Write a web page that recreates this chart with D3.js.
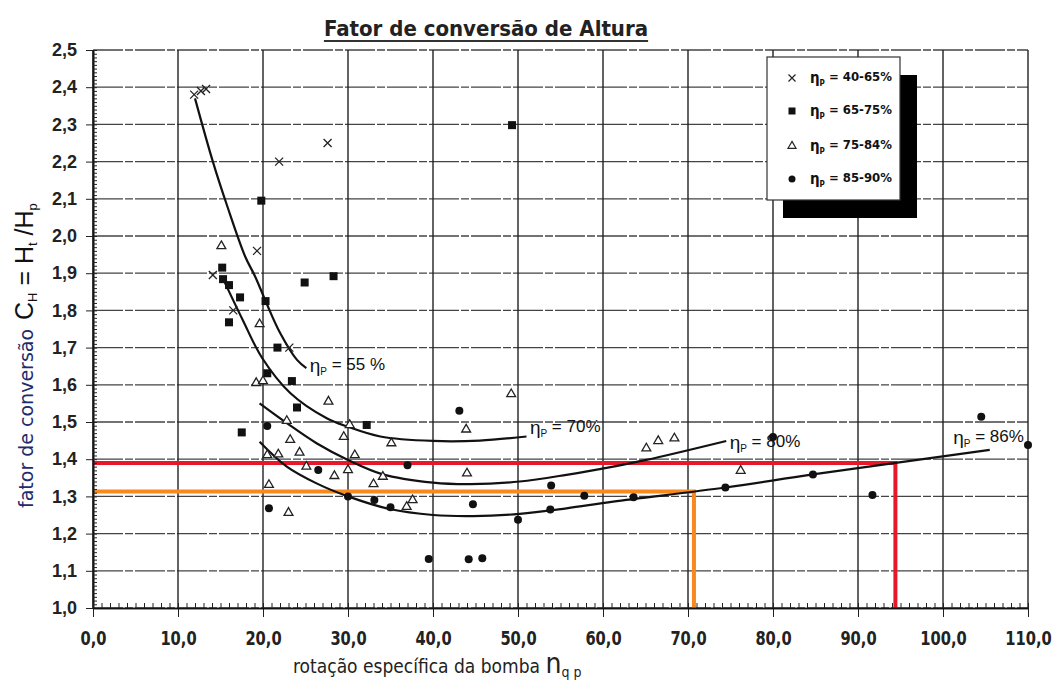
<!DOCTYPE html>
<html>
<head>
<meta charset="utf-8">
<script src="https://cdn.jsdelivr.net/npm/d3@7"></script>
<style>
  body { margin: 0; background: #fff; }
  svg { display: block; }
</style>
</head>
<body>
<svg id="chart" width="1054" height="684"></svg>
<script>
// Axis ticks
const xTicks = d3.range(0, 111, 10);
const yTicks = d3.range(10, 26).map(v => v / 10);

// Measured points by pump efficiency class
const crossPts = [[11.9,2.38],[12.7,2.39],[13.3,2.395],[21.9,2.20],[27.6,2.25],[19.3,1.96],[14.1,1.895],[16.5,1.80],[23.1,1.70]];
const squarePts = [[19.8,2.095],[49.3,2.298],[15.2,1.915],[15.3,1.884],[16.0,1.868],[24.9,1.875],[28.3,1.892],[17.3,1.835],[20.3,1.825],[16.0,1.768],[21.7,1.70],[20.5,1.631],[23.4,1.61],[24.0,1.539],[17.5,1.472],[32.2,1.492]];
const trianglePts = [[15.1,1.973],[19.6,1.763],[19.2,1.605],[20.0,1.61],[27.7,1.555],[22.8,1.503],[23.2,1.452],[24.3,1.418],[20.5,1.411],[21.8,1.413],[25.1,1.38],[28.4,1.355],[30.0,1.371],[30.8,1.411],[29.5,1.46],[30.2,1.492],[20.7,1.331],[23.0,1.256],[35.1,1.443],[34.1,1.353],[33.0,1.333],[49.2,1.575],[43.9,1.48],[44.0,1.362],[37.6,1.29],[36.9,1.272],[65.1,1.429],[66.5,1.449],[68.4,1.456],[76.2,1.369]];
const circlePts = [[20.5,1.489],[26.5,1.371],[20.7,1.268],[30.0,1.30],[33.1,1.29],[35.0,1.271],[43.1,1.530],[37.0,1.384],[53.9,1.329],[57.8,1.302],[44.7,1.279],[53.8,1.265],[50.0,1.237],[39.5,1.132],[44.2,1.131],[45.8,1.134],[80.0,1.46],[63.6,1.298],[74.4,1.324],[84.7,1.359],[91.7,1.304],[104.5,1.514],[110.0,1.438]];

// Iso-efficiency curves
const curve55 = [[12.0,2.37],[14.1,2.20],[15.8,2.08],[17.9,1.945],[19.1,1.89],[20.4,1.82],[22.0,1.74],[24.0,1.667],[25.1,1.645]];
const curve70 = [[15.4,1.88],[17.6,1.775],[19.9,1.672],[23.2,1.578],[27.5,1.51],[30.0,1.487],[33.8,1.461],[40.0,1.449],[45.5,1.45],[51.0,1.461]];
const curve80 = [[19.6,1.55],[22.8,1.497],[26.3,1.443],[30.0,1.398],[34.0,1.36],[40.0,1.337],[44.4,1.333],[50.2,1.34],[55.7,1.358],[61.2,1.38],[65.1,1.398],[74.5,1.449]];
const curve86 = [[19.6,1.447],[22.8,1.38],[26.3,1.335],[30.0,1.30],[34.9,1.266],[40.0,1.25],[44.7,1.247],[50.2,1.253],[55.7,1.268],[61.2,1.286],[74.4,1.324],[84.7,1.359],[105.5,1.425]];
const curveNames = ["55 %", "70%", "80%", "86%"];
const curveLabelAt = [[25.5,1.634],[51.4,1.468],[74.9,1.427],[101.2,1.44]];

// Reading lines (operating points)
const redPoint = [94.4, 1.39];
const orangePoint = [70.7, 1.313];

// Legend
const legendLabels = ["40-65%", "65-75%", "75-84%", "85-90%"];

const svg = d3.select("#chart");
const W = 1054, H = 684;
const m = { left: 93, right: 26, top: 50, bottom: 76 };
const x = d3.scaleLinear().domain([0, 110]).range([m.left, W - m.right]);
const y = d3.scaleLinear().domain([1.0, 2.5]).range([H - m.bottom, m.top]);
const fmt = d => d3.format(".1f")(d).replace(".", ",");

// Grid
const grid = svg.append("g");
grid.selectAll("line.h").data(yTicks).join("line")
  .attr("x1", x(0)).attr("x2", x(110))
  .attr("y1", d => y(d)).attr("y2", d => y(d))
  .attr("stroke", "#444").attr("stroke-width", 1.3)
  .attr("stroke-dasharray", "30,2,8,2");
grid.selectAll("line.v").data(xTicks).join("line")
  .attr("x1", d => x(d)).attr("x2", d => x(d))
  .attr("y1", y(2.5)).attr("y2", y(1.0))
  .attr("stroke", "#222").attr("stroke-width", 1.4);

// Reading lines
const readLine = (pt, col) => {
  svg.append("path")
    .attr("d", `M${x(0)},${y(pt[1])}H${x(pt[0])}V${y(1.0)}`)
    .attr("fill", "none").attr("stroke", col).attr("stroke-width", 4);
};
readLine(orangePoint, "#f7891f");
readLine(redPoint, "#e8182c");

// Axes
const axY = svg.append("g").attr("transform", `translate(${x(0)},0)`)
  .call(d3.axisLeft(y).tickValues(yTicks).tickFormat(fmt).tickSize(7).tickSizeOuter(0));
svg.append("g").attr("transform", `translate(${x(0)},0)`)
  .call(d3.axisRight(y).tickValues(d3.range(100, 251).map(v => v / 100)).tickFormat("").tickSize(4).tickSizeOuter(0));
const axX = svg.append("g").attr("transform", `translate(0,${y(1.0)})`)
  .call(d3.axisBottom(x).tickValues(xTicks).tickFormat(fmt).tickSize(9).tickSizeOuter(0));
svg.append("g").attr("transform", `translate(0,${y(1.0)})`)
  .call(d3.axisTop(x).tickValues(d3.range(0, 111)).tickFormat("").tickSize(5).tickSizeOuter(0));
svg.selectAll(".domain").attr("stroke", "#111").attr("stroke-width", 1.6);
svg.selectAll(".tick line").attr("stroke", "#222");
axY.selectAll("text").attr("font-family", "Liberation Sans, Arial, sans-serif")
  .attr("font-weight", "bold").attr("font-size", 18).attr("fill", "#222").attr("dx", "-6");
axX.selectAll("text").attr("font-family", "DejaVu Sans Condensed, sans-serif")
  .attr("font-weight", "bold").attr("font-size", 19).attr("fill", "#222")
  .attr("y", 24).attr("dy", "0.71em").attr("transform", "scale(0.86,1)");

// Curves
const line = d3.line().x(d => x(d[0])).y(d => y(d[1])).curve(d3.curveCatmullRom.alpha(0.5));
[curve55, curve70, curve80, curve86].forEach(c => {
  svg.append("path").datum(c).attr("d", line)
    .attr("fill", "none").attr("stroke", "#111").attr("stroke-width", 2.2);
});

// Curve labels
curveNames.forEach((n, i) => {
  const t = svg.append("text").attr("x", x(curveLabelAt[i][0])).attr("y", y(curveLabelAt[i][1]))
    .attr("font-family", "Liberation Sans, Arial, sans-serif").attr("font-size", 17).attr("fill", "#111");
  t.append("tspan").text("η").attr("font-size", 19);
  t.append("tspan").text("P").attr("font-size", 10).attr("dy", "0.3em");
  t.append("tspan").text(" = " + n).attr("dy", "-0.3em");
});

// Markers
const sym = (type, size) => d3.symbol().type(type).size(size)();
svg.append("g").selectAll("path").data(crossPts).join("path")
  .attr("d", d => { const cx = x(d[0]), cy = y(d[1]), r = 4; return `M${cx-r},${cy-r}L${cx+r},${cy+r}M${cx-r},${cy+r}L${cx+r},${cy-r}`; })
  .attr("stroke", "#222").attr("stroke-width", 1.3);
svg.append("g").selectAll("rect").data(squarePts).join("rect")
  .attr("x", d => x(d[0]) - 4).attr("y", d => y(d[1]) - 4).attr("width", 8).attr("height", 8)
  .attr("fill", "#111");
svg.append("g").selectAll("path").data(trianglePts).join("path")
  .attr("transform", d => `translate(${x(d[0])},${y(d[1])})`)
  .attr("d", sym(d3.symbolTriangle, 34)).attr("fill", "#fff").attr("stroke", "#222").attr("stroke-width", 1.3);
svg.append("g").selectAll("circle").data(circlePts).join("circle")
  .attr("cx", d => x(d[0])).attr("cy", d => y(d[1])).attr("r", 4).attr("fill", "#111");

// Legend with drop shadow
const lg = svg.append("g");
lg.append("rect").attr("x", 783).attr("y", 75).attr("width", 134).attr("height", 143).attr("fill", "#000");
lg.append("rect").attr("x", 767).attr("y", 57).attr("width", 133).attr("height", 143)
  .attr("fill", "#fff").attr("stroke", "#333").attr("stroke-width", 1.2);
const rowY = [78, 111, 146, 179];
const mx = 792;
lg.append("path").attr("d", `M${mx-3.5},${rowY[0]-3.5}L${mx+3.5},${rowY[0]+3.5}M${mx-3.5},${rowY[0]+3.5}L${mx+3.5},${rowY[0]-3.5}`)
  .attr("stroke", "#222").attr("stroke-width", 1.2);
lg.append("rect").attr("x", mx - 3.5).attr("y", rowY[1] - 3.5).attr("width", 7).attr("height", 7).attr("fill", "#111");
lg.append("path").attr("transform", `translate(${mx},${rowY[2]})`).attr("d", sym(d3.symbolTriangle, 28))
  .attr("fill", "#fff").attr("stroke", "#222").attr("stroke-width", 1.2);
lg.append("circle").attr("cx", mx).attr("cy", rowY[3]).attr("r", 3.5).attr("fill", "#111");
legendLabels.forEach((l, i) => {
  const t = lg.append("text").attr("x", 810).attr("y", rowY[i] + 5)
    .attr("font-family", "DejaVu Sans Condensed, sans-serif")
    .attr("font-weight", "bold").attr("font-size", 13).attr("fill", "#111");
  t.append("tspan").text("η").attr("font-size", 15);
  t.append("tspan").text("P").attr("font-size", 8).attr("dy", "0.35em");
  t.append("tspan").text(" = " + l).attr("dy", "-0.35em");
});

// Title
const title = svg.append("text").attr("x", 486).attr("y", 36).attr("text-anchor", "middle")
  .attr("font-family", "DejaVu Sans Condensed, Liberation Sans, sans-serif")
  .attr("font-weight", "bold").attr("font-size", 22).attr("fill", "#222")
  .text("Fator de conversão de Altura");
const tb = title.node().getBBox();
svg.append("line").attr("x1", tb.x).attr("x2", tb.x + tb.width).attr("y1", 41).attr("y2", 41)
  .attr("stroke", "#333").attr("stroke-width", 1.8);

// Y axis title
const yt = svg.append("text").attr("transform", "translate(33,508) rotate(-90)")
  .attr("font-family", "DejaVu Sans, sans-serif").attr("font-size", 19);
yt.append("tspan").text("fator de conversão").attr("fill", "#1d2c6b");
yt.append("tspan").text(" C").attr("font-family", "Liberation Sans, Arial, sans-serif").attr("font-size", 25).attr("fill", "#111").attr("dx", 2);
yt.append("tspan").text("H").attr("font-family", "Liberation Sans, Arial, sans-serif").attr("font-size", 13).attr("dy", 4).attr("fill", "#111");
yt.append("tspan").text(" = H").attr("font-family", "Liberation Sans, Arial, sans-serif").attr("font-size", 25).attr("dy", -4).attr("fill", "#111");
yt.append("tspan").text("t").attr("font-family", "Liberation Sans, Arial, sans-serif").attr("font-size", 13).attr("dy", 4).attr("fill", "#111");
yt.append("tspan").text(" /H").attr("font-family", "Liberation Sans, Arial, sans-serif").attr("font-size", 25).attr("dy", -4).attr("fill", "#111");
yt.append("tspan").text("p").attr("font-family", "Liberation Sans, Arial, sans-serif").attr("font-size", 13).attr("dy", 4).attr("fill", "#111");

// X axis title
const xt = svg.append("text").attr("x", 293).attr("y", 673)
  .attr("font-family", "DejaVu Sans Condensed, sans-serif").attr("font-size", 19).attr("fill", "#222");
xt.append("tspan").text("rotação específica da bomba ");
xt.append("tspan").text("n").attr("font-size", 28);
xt.append("tspan").text("q p").attr("font-size", 14).attr("dy", 4);
</script>
</body>
</html>
